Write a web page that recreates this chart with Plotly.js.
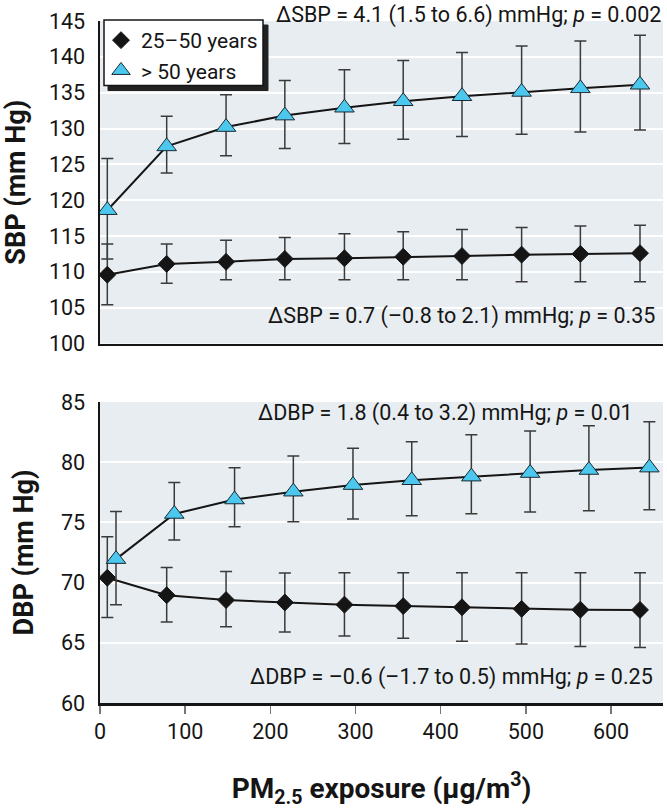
<!DOCTYPE html>
<html>
<head>
<meta charset="utf-8">
<script src="https://cdn.plot.ly/plotly-3.0.1.min.js"></script>
<style>html,body{margin:0;padding:0;background:#fff;}#chart{width:667px;height:811px;}</style>
</head>
<body>
<div id="chart"></div>
<script>
// ---- data ----
const seriesNames = ['25\u201350 years', '> 50 years'];
const pmYoung = [8.6, 78.3, 148, 217, 287, 356, 425, 495, 564, 634];
const pmOldTop = [8.6, 78.3, 148, 217, 287, 356, 425, 495, 564, 634];
const pmOldBottom = [18.8, 87.2, 158, 227, 297, 366, 436, 505, 574, 645];

const sbpYoung   = [109.6, 111.1, 111.4, 111.8, 111.9, 112.1, 112.2, 112.4, 112.5, 112.6];
const sbpYoungHi = [113.9, 113.9, 114.4, 114.8, 115.3, 115.6, 115.9, 116.2, 116.4, 116.5];
const sbpYoungLo = [105.4, 108.4, 108.9, 108.9, 108.9, 108.9, 108.9, 108.6, 108.6, 108.6];

const sbpOld   = [118.6, 127.5, 130.2, 131.8, 132.9, 133.8, 134.5, 135.1, 135.6, 136.1];
const sbpOldHi = [125.8, 131.7, 134.7, 136.7, 138.2, 139.5, 140.6, 141.5, 142.2, 143.0];
const sbpOldLo = [111.8, 123.8, 126.2, 127.2, 127.9, 128.5, 128.9, 129.2, 129.5, 129.8];

const dbpYoung   = [70.4, 68.95, 68.55, 68.35, 68.17, 68.05, 67.95, 67.82, 67.75, 67.73];
const dbpYoungHi = [73.8, 71.26, 70.93, 70.8, 70.82, 70.82, 70.82, 70.82, 70.82, 70.82];
const dbpYoungLo = [67.1, 66.73, 66.34, 65.9, 65.56, 65.37, 65.12, 64.9, 64.7, 64.62];

const dbpOld   = [71.95, 75.7, 76.9, 77.55, 78.1, 78.5, 78.8, 79.1, 79.35, 79.55];
const dbpOldHi = [75.9, 78.32, 79.54, 80.51, 81.15, 81.7, 82.28, 82.59, 83.03, 83.36];
const dbpOldLo = [68.16, 73.54, 74.64, 75.06, 75.28, 75.56, 75.72, 75.86, 75.97, 76.05];

const xTickVals = [0, 100, 200, 300, 400, 500, 600];
const sbpTicks = [100, 105, 110, 115, 120, 125, 130, 135, 140, 145];
const dbpTicks = [60, 65, 70, 75, 80, 85];

const annSbpOld = '\u0394SBP = 4.1 (1.5 to 6.6) mmHg; <i>p</i> = 0.002';
const annSbpYoung = '\u0394SBP = 0.7 (\u20130.8 to 2.1) mmHg; <i>p</i> = 0.35';
const annDbpOld = '\u0394DBP = 1.8 (0.4 to 3.2) mmHg; <i>p</i> = 0.01';
const annDbpYoung = '\u0394DBP = \u20130.6 (\u20131.7 to 0.5) mmHg; <i>p</i> = 0.25';

// ---- styling ----
const FONT = 'Roboto, "Liberation Sans", sans-serif';
const CYAN = '#4cc8ee';
const DARK = '#151515';
const ERRC = '#3a3a3a';

function diff(a, b) { return a.map((v, i) => +(v - b[i]).toFixed(3)); }

function lineTrace(x, y, xa, ya) {
  return {x: x, y: y, xaxis: xa, yaxis: ya, mode: 'lines', type: 'scatter',
    line: {color: DARK, width: 2}, showlegend: false, hoverinfo: 'skip'};
}
function markTrace(x, y, hi, lo, xa, ya, kind, show) {
  const isOld = kind === 'old';
  return {x: x, y: y, xaxis: xa, yaxis: ya, mode: 'markers', type: 'scatter',
    name: isOld ? seriesNames[1] : seriesNames[0],
    legendgroup: kind, showlegend: show,
    error_y: {type: 'data', symmetric: false, array: diff(hi, y), arrayminus: diff(y, lo),
      color: ERRC, thickness: 1.5, width: 6},
    marker: isOld
      ? {symbol: 'triangle-up', size: 17, color: CYAN, line: {color: '#1a2a33', width: 1}}
      : {symbol: 'diamond', size: 13, color: DARK, line: {color: DARK, width: 1}}
  };
}

const data = [
  lineTrace(pmYoung, sbpYoung, 'x2', 'y2'),
  lineTrace(pmOldTop, sbpOld, 'x2', 'y2'),
  markTrace(pmYoung, sbpYoung, sbpYoungHi, sbpYoungLo, 'x2', 'y2', 'young', true),
  markTrace(pmOldTop, sbpOld, sbpOldHi, sbpOldLo, 'x2', 'y2', 'old', true),
  lineTrace(pmYoung, dbpYoung, 'x', 'y'),
  lineTrace(pmOldBottom, dbpOld, 'x', 'y'),
  markTrace(pmYoung, dbpYoung, dbpYoungHi, dbpYoungLo, 'x', 'y', 'young', false),
  markTrace(pmOldBottom, dbpOld, dbpOldHi, dbpOldLo, 'x', 'y', 'old', false)
];

const L = 100, R = 4, T = 21, B = 108, W = 667, H = 811;
const PW = W - L - R, PH = H - T - B;
const px2x = p => (p - L) / PW;
const px2y = p => (H - B - p) / PH;

const yAxisBase = {
  showline: true, linecolor: DARK, linewidth: 2.5, mirror: false,
  showgrid: true, gridcolor: '#ffffff', gridwidth: 2, zeroline: false,
  ticks: '', ticklabelstandoff: 8, tickfont: {family: FONT, size: 21.5, color: DARK}, fixedrange: true
};
const xAxisBase = {
  range: [0, 661], showline: true, linecolor: DARK, linewidth: 2.5, mirror: false,
  showgrid: false, zeroline: false, fixedrange: true
};

const layout = {
  width: W, height: H,
  margin: {l: L, r: R, t: T, b: B, pad: 0},
  paper_bgcolor: '#ffffff', plot_bgcolor: '#e8edf1',
  font: {family: FONT, color: DARK},
  showlegend: true,
  legend: {x: px2x(101), y: px2y(20), xanchor: 'left', yanchor: 'top',
    bgcolor: 'rgba(0,0,0,0)', borderwidth: 0,
    font: {family: FONT, size: 21, color: DARK}, tracegroupgap: 0, itemwidth: 30},
  xaxis: Object.assign({}, xAxisBase, {anchor: 'y', tickvals: xTickVals,
    ticks: 'outside', ticklen: 8, tickwidth: 1.5, tickcolor: '#777',
    tickfont: {family: FONT, size: 21.5, color: DARK},
    title: {text: '<b>PM<sub>2.5</sub> exposure (\u00b5g/m<sup>3</sup>)</b>',
      font: {family: FONT, size: 28, color: DARK}, standoff: 35}}),
  xaxis2: Object.assign({}, xAxisBase, {anchor: 'y2', showticklabels: false, ticks: ''}),
  yaxis: Object.assign({}, yAxisBase, {domain: [0, px2y(402)], range: [60, 85], tickvals: dbpTicks,
    title: {text: '<b>DBP (mm Hg)</b>', font: {family: FONT, size: 27, color: DARK}, standoff: 20}}),
  yaxis2: Object.assign({}, yAxisBase, {domain: [px2y(343.5), 1], range: [100, 145], tickvals: sbpTicks,
    title: {text: '<b>SBP (mm Hg)</b>', font: {family: FONT, size: 27, color: DARK}, standoff: 20}}),
  shapes: [
    {type: 'rect', xref: 'paper', yref: 'paper', layer: 'above',
      x0: px2x(108), x1: px2x(268), y0: px2y(90.5), y1: px2y(25),
      fillcolor: '#222222', line: {color: '#222222', width: 1}},
    {type: 'rect', xref: 'paper', yref: 'paper', layer: 'above',
      x0: px2x(104), x1: px2x(263), y0: px2y(85.5), y1: px2y(20),
      fillcolor: '#ffffff', line: {width: 1.5, color: DARK}}
  ],
  annotations: [
    {text: annSbpOld, x: px2x(663), y: px2y(15)},
    {text: annSbpYoung, x: px2x(657), y: px2y(316)},
    {text: annDbpOld, x: px2x(635), y: px2y(413)},
    {text: annDbpYoung, x: px2x(655), y: px2y(677)}
  ].map(a => Object.assign({xref: 'paper', yref: 'paper', xanchor: 'right', yanchor: 'middle',
    showarrow: false, font: {family: FONT, size: 21.5, color: DARK}}, a))
};

Plotly.newPlot('chart', data, layout, {displayModeBar: false, staticPlot: true});
</script>
</body>
</html>
